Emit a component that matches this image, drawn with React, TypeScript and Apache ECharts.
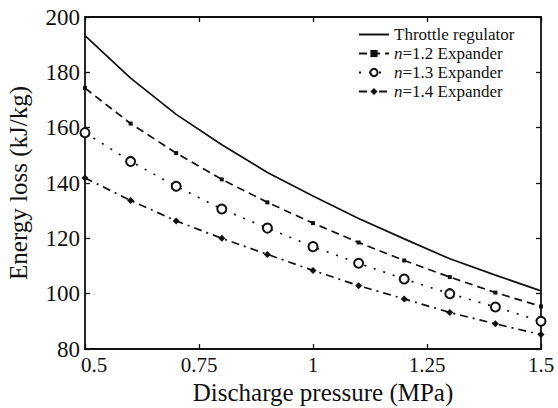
import React, { useEffect, useRef } from "react";
import * as echarts from "echarts";

const pressures = [0.5, 0.6, 0.7, 0.8, 0.9, 1.0, 1.1, 1.2, 1.3, 1.4, 1.5];
const throttle = [193.3, 177.9, 164.8, 153.8, 143.8, 135.3, 127.2, 119.8, 112.6, 106.7, 101.0];
const exp12 = [174.3, 161.5, 150.8, 141.3, 133.0, 125.5, 118.5, 112.0, 106.0, 100.4, 95.4];
const exp13 = [158.2, 147.8, 138.8, 130.6, 123.7, 117.0, 111.0, 105.3, 100.0, 95.2, 90.0];
const exp14 = [141.8, 133.7, 126.3, 120.0, 114.2, 108.4, 102.9, 98.1, 93.2, 89.1, 85.2];
const seriesNames = ["Throttle regulator", "n=1.2 Expander", "n=1.3 Expander", "n=1.4 Expander"];

const FONT = "'Liberation Serif', 'Times New Roman', serif";

function pairs(ys: number[]) {
  return pressures.map((x, i) => [x, ys[i]]);
}

export default function App() {
  const ref = useRef<HTMLDivElement>(null);
  useEffect(() => {
    if (!ref.current) return;
    const chart = echarts.init(ref.current, undefined, { renderer: "svg" });
    const axisLine = { show: true, lineStyle: { color: "#111", width: 1.8 } };
    const tick = { show: true, inside: true, length: 5, lineStyle: { color: "#111", width: 1.3 } };
    chart.setOption({
      animation: false,
      backgroundColor: "#fff",
      grid: { left: 85, right: 17, top: 17, bottom: 59, containLabel: false, outerBoundsMode: "none" },
      legend: {
        orient: "vertical",
        left: 358,
        top: 25,
        padding: 0,
        itemWidth: 30,
        itemHeight: 9,
        itemGap: 0,
        data: seriesNames.map((n, i) => (i === 0 ? { name: n, itemStyle: { opacity: 0 } } : { name: n })),
        textStyle: {
          fontFamily: FONT,
          fontSize: 17,
          lineHeight: 19,
          color: "#111",
          rich: { i: { fontFamily: FONT, fontSize: 17, lineHeight: 19, fontStyle: "italic", color: "#111" } },
        },
        formatter: (name: string) => (name.startsWith("n=") ? `{i|n}${name.slice(1)}` : name),
      },
      xAxis: [
        {
          type: "value",
          min: 0.5,
          max: 1.5,
          interval: 0.25,
          position: "bottom",
          axisLine,
          axisTick: tick,
          splitLine: { show: false },
          axisLabel: {
            fontFamily: FONT,
            fontSize: 21,
            lineHeight: 21,
            color: "#111",
            margin: 5,
            formatter: (v: number) => (v === 0.5 ? `{m|${v}}` : String(v)),
            rich: { m: { fontFamily: FONT, fontSize: 21, lineHeight: 21, color: "#111", padding: [0, 0, 0, 18] } },
          },
          name: "Discharge pressure (MPa)",
          nameLocation: "middle",
          nameGap: 30,
          nameMoveOverlap: false,
          nameTextStyle: { fontFamily: FONT, fontSize: 25, lineHeight: 26, color: "#111", padding: [0, 0, 0, 20] },
        },
        {
          type: "value",
          min: 0.5,
          max: 1.5,
          interval: 0.25,
          position: "top",
          axisLine,
          axisTick: tick,
          splitLine: { show: false },
          axisLabel: { show: false },
        },
      ],
      yAxis: [
        {
          type: "value",
          min: 80,
          max: 200,
          interval: 20,
          position: "left",
          axisLine,
          axisTick: tick,
          splitLine: { show: false },
          axisLabel: { fontFamily: FONT, fontSize: 23, color: "#111", margin: 5 },
          name: "Energy loss (kJ/kg)",
          nameLocation: "middle",
          nameGap: 54,
          nameMoveOverlap: false,
          nameTextStyle: { fontFamily: FONT, fontSize: 25, color: "#111" },
        },
        {
          type: "value",
          min: 80,
          max: 200,
          interval: 20,
          position: "right",
          axisLine,
          axisTick: tick,
          splitLine: { show: false },
          axisLabel: { show: false },
        },
      ],
      series: [
        {
          name: seriesNames[0],
          type: "line",
          data: pairs(throttle),
          showSymbol: false,
          symbol: "none",
          lineStyle: { color: "#111", width: 1.7, type: "solid" },
          itemStyle: { color: "#111" },
        },
        {
          name: seriesNames[1],
          type: "line",
          data: pairs(exp12),
          symbol: "rect",
          symbolSize: 4,
          lineStyle: { color: "#111", width: 1.7, type: [8, 5] },
          itemStyle: { color: "#111" },
        },
        {
          name: seriesNames[2],
          type: "line",
          data: pairs(exp13),
          symbol: "emptyCircle",
          symbolSize: 9,
          lineStyle: { color: "#111", width: 1.7, type: [2, 8] },
          itemStyle: { color: "#111", borderColor: "#111", borderWidth: 2 },
        },
        {
          name: seriesNames[3],
          type: "line",
          data: pairs(exp14),
          symbol: "diamond",
          symbolSize: 7,
          lineStyle: { color: "#111", width: 1.7, type: [8, 5, 2, 5] },
          itemStyle: { color: "#111" },
        },
      ],
    });
    return () => chart.dispose();
  }, []);
  return <div ref={ref} style={{ width: 558, height: 408, position: "absolute", left: 0, top: 0 }} />;
}
